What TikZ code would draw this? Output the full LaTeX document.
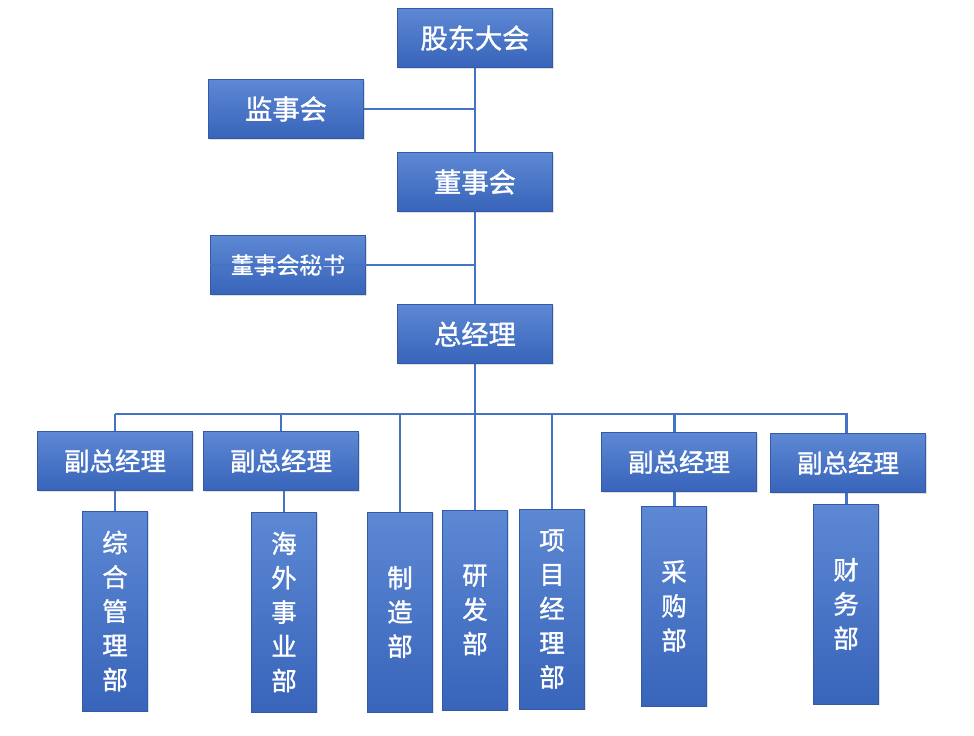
\documentclass[tikz,border=0pt]{standalone}
\usepackage{fontspec}
\usepackage{xcolor}
\usepackage{tikz}
\usetikzlibrary{shadows}
\newfontfamily\cjk{Noto Sans CJK SC}[FakeBold=1.2]
\definecolor{boxtop}{RGB}{93,136,212}
\definecolor{boxbot}{RGB}{56,100,186}
\definecolor{linkblue}{RGB}{68,114,196}
\begin{document}
\begin{tikzpicture}[x=0.02cm,y=-0.02cm]
\tikzstyle{every node}+=[inner sep=0pt]
\tikzstyle{unit}=[rectangle, top color=boxtop, bottom color=boxbot, draw=boxbot!90!black, line width=0.3pt, text=white,
  drop shadow={opacity=0.25, shadow xshift=0.6pt, shadow yshift=-0.8pt}]
\tikzstyle{wide}=[unit, minimum width=3.1cm, minimum height=1.17cm, font=\cjk\fontsize{15.5}{18}\selectfont]
\tikzstyle{tall}=[unit, minimum width=1.3cm, minimum height=4cm, align=center, font=\cjk\fontsize{14.5}{19.5}\selectfont]
\tikzstyle{link}=[linkblue, line width=1.7pt]
\useasboundingbox (0,0) rectangle (974,736);
% top levels
\node [wide] (sh) at (475,38) {股东大会};
\node [wide] (sup) at (286,109) {监事会};
\node [wide] (bod) at (475,182) {董事会};
\node [wide, font=\cjk\fontsize{13}{15}\selectfont] (sec) at (288,265) {董事会秘书};
\node [wide] (gm) at (475,334) {总经理};
% deputy managers
\node [wide, font=\cjk\fontsize{14.5}{17}\selectfont] (vpa) at (115,461) {副总经理};
\node [wide, font=\cjk\fontsize{14.5}{17}\selectfont] (vpb) at (281,461) {副总经理};
\node [wide, font=\cjk\fontsize{14.5}{17}\selectfont] (vpc) at (679,462) {副总经理};
\node [wide, font=\cjk\fontsize{14.5}{17}\selectfont] (vpd) at (848,463) {副总经理};
% departments
\node [tall] (zh) at (115,611) {综\\合\\管\\理\\部};
\node [tall] (hw) at (284,612) {海\\外\\事\\业\\部};
\node [tall] (zz) at (400,612) {制\\造\\部};
\node [tall] (yf) at (475,610) {研\\发\\部};
\node [tall] (xm) at (552,609) {项\\目\\经\\理\\部};
\node [tall] (cg) at (674,606) {采\\购\\部};
\node [tall] (cw) at (846,604) {财\\务\\部};
% trunk
\coordinate (bus) at (475,414);
\draw [link] (sh.south) -- (bod.north);
\draw [link] (bod.south) -- (gm.north);
\draw [link] (sup.east) -- (sup.east -| sh.south);
\draw [link, line width=1.2pt] (sec.west) -- (sec.west -| bod.south);
\draw [link] (gm.south) -- (bus);
\draw [link] (vpa.north |- bus) -- (vpd.north |- bus);
% branches
\draw [link] (vpa.north |- bus) -- (vpa.north);
\draw [link] (vpb.north |- bus) -- (vpb.north);
\draw [link] (zz.north |- bus) -- (zz.north);
\draw [link] (yf.north |- bus) -- (yf.north);
\draw [link] (xm.north |- bus) -- (xm.north);
\draw [link] (cg.north |- bus) -- (cg.north |- vpc.north);
\draw [link] (cw.north |- bus) -- (cw.north |- vpd.north);
\draw [link] (zh.north |- vpa.south) -- (zh.north);
\draw [link] (hw.north |- vpb.south) -- (hw.north);
\draw [link] (cg.north |- vpc.south) -- (cg.north);
\draw [link] (cw.north |- vpd.south) -- (cw.north);
\end{tikzpicture}
\end{document}
